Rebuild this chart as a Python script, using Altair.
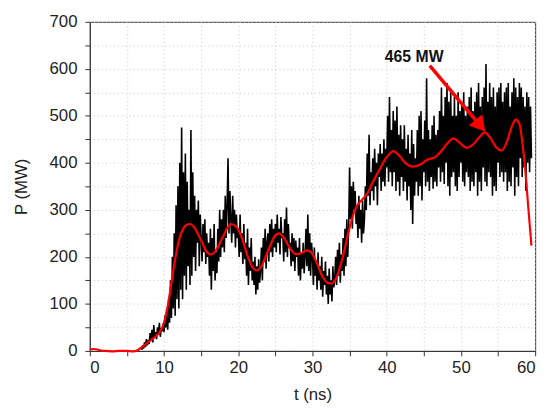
import altair as alt
import pandas as pd

# Smoothed (red) curve: time (ns) and power (MW)
red_t = [0, 0.5, 1, 1.5, 2, 3, 4, 5, 5.8, 6.5, 7, 8, 9, 9.5, 10, 10.5, 11, 11.5, 12, 12.5,
         13, 13.5, 14, 15, 15.7, 16.3, 17, 18, 19, 19.7, 20.5, 21.3, 22, 22.5, 23, 24, 25, 25.5,
         26, 27, 27.7, 28.5, 29.2, 29.8, 30.5, 31.3, 32, 32.5, 33.2, 34, 35, 35.5, 36, 37, 37.5,
         38, 39, 40, 40.9, 41.7, 42.5, 43.5, 44.5, 45.5, 46.5, 47.5, 48.2, 49, 49.8, 50.8, 51.7,
         52.5, 53.2, 54, 54.8, 55.5, 56.2, 56.8, 57.4, 57.9, 58.3, 58.7, 59.1, 59.5]
red_p = [3, 4, 3, 1, 0, -1, 0, 0, -1, 2, 8, 20, 33, 42, 60, 95, 145, 195, 235, 257,
         268, 270, 264, 235, 212, 205, 214, 245, 270, 265, 240, 200, 176, 171, 177, 212, 246, 250,
         244, 218, 206, 208, 214, 210, 190, 160, 145, 143, 155, 195, 262, 290, 308, 327, 338,
         355, 385, 412, 425, 415, 400, 392, 396, 407, 412, 428, 442, 452, 443, 432, 440,
         455, 465, 452, 432, 426, 445, 475, 492, 482, 440, 380, 300, 224]

# Raw (black) signal, sampled every 0.125 ns from 7 ns
noise_start = 7.0
noise_step = 0.125
noise_p = [
    2, 12, 5, 18, 8, 25, 12, 20,
    15, 38, 22, 45, 18, 55, 28, 40,
    25, 50, 35, 60, 30, 48, 42, 58,
    40, 75, 50, 90, 45, 110, 60, 150,
    70, 200, 90, 250, 75, 310, 110, 350,
    90, 400, 130, 475, 110, 380, 160, 420,
    130, 360, 180, 300, 140, 470, 160, 380,
    200, 330, 170, 300, 230, 320, 180, 290,
    240, 190, 270, 210, 280, 185, 250, 200,
    230, 160, 260, 130, 240, 170, 270, 150,
    210, 165, 260, 190, 300, 200, 280, 220,
    300, 210, 330, 240, 310, 410, 250, 340,
    280, 230, 330, 250, 300, 220, 290, 240,
    260, 200, 290, 210, 250, 185, 270, 195,
    230, 160, 260, 140, 220, 170, 240, 150,
    190, 140, 200, 120, 180, 130, 195, 145,
    170, 220, 150, 240, 190, 260, 175, 230,
    250, 190, 270, 210, 280, 200, 260, 220,
    270, 210, 290, 230, 260, 205, 285, 240,
    250, 190, 280, 210, 305, 200, 270, 220,
    230, 180, 250, 190, 240, 170, 235, 200,
    220, 160, 240, 150, 210, 175, 230, 165,
    200, 260, 180, 290, 170, 250, 160, 230,
    200, 140, 220, 160, 190, 130, 210, 150,
    180, 130, 200, 115, 170, 140, 190, 120,
    160, 100, 175, 120, 150, 105, 180, 135,
    150, 200, 140, 215, 160, 230, 145, 205,
    170, 240, 160, 260, 180, 280, 200, 260,
    390, 280, 350, 260, 360, 300, 340, 270,
    310, 240, 330, 260, 300, 230, 320, 250,
    280, 350, 300, 420, 330, 460, 310, 380,
    340, 410, 320, 430, 350, 400, 310, 420,
    370, 440, 340, 420, 360, 450, 350, 430,
    390, 500, 360, 540, 380, 470, 350, 510,
    380, 490, 340, 520, 360, 460, 330, 480,
    370, 450, 340, 480, 360, 430, 320, 460,
    350, 420, 300, 470, 270, 440, 330, 410,
    360, 470, 330, 500, 350, 510, 320, 450,
    380, 490, 350, 580, 360, 470, 340, 450,
    370, 480, 345, 500, 360, 460, 350, 470,
    390, 510, 360, 560, 380, 500, 355, 540,
    400, 570, 350, 530, 330, 550, 370, 500,
    380, 540, 350, 500, 340, 550, 370, 510,
    400, 530, 360, 550, 350, 500, 380, 520,
    370, 540, 340, 560, 360, 510, 350, 530,
    380, 550, 330, 570, 360, 520, 340, 540,
    390, 560, 360, 610, 350, 530, 380, 570,
    370, 540, 330, 560, 350, 520, 340, 550,
    400, 560, 370, 570, 380, 530, 360, 550,
    380, 560, 340, 570, 360, 520, 350, 550,
    390, 580, 330, 560, 370, 540, 350, 570,
    410, 560, 370, 540, 390, 520, 340, 550,
    400, 540, 380, 520, 410,
]

# Annotation
label_text = "465 MW"
label_t, label_p = 43.7, 624
arrow_t0, arrow_p0 = 45.8, 607
arrow_t1, arrow_p1 = 52.4, 483

x_ticks = list(range(0, 61, 5))
y_ticks = list(range(0, 701, 50))

noise_df = pd.DataFrame({
    "t": [noise_start + i * noise_step for i in range(len(noise_p))],
    "p": noise_p,
})
red_df = pd.DataFrame({"t": red_t, "p": red_p})
label_df = pd.DataFrame({"t": [label_t], "p": [label_p], "txt": [label_text]})
arrow_df = pd.DataFrame({"t": [arrow_t0], "p": [arrow_p0], "t2": [arrow_t1], "p2": [arrow_p1]})
head_df = pd.DataFrame({"t": [arrow_t1], "p": [arrow_p1]})

X = alt.X("t:Q", title="t (ns)",
          scale=alt.Scale(domain=[0, 60], nice=False, zero=False),
          axis=alt.Axis(values=x_ticks,
                        labelExpr="datum.value % 10 == 0 ? datum.label : ''",
                        labelOverlap=False, labelPadding=4, titlePadding=11))
Y = alt.Y("p:Q", title="P (MW)",
          scale=alt.Scale(domain=[0, 700], nice=False, zero=False),
          axis=alt.Axis(values=y_ticks,
                        labelExpr="datum.value % 100 == 0 ? datum.label : ''",
                        labelOverlap=False, labelPadding=8, titlePadding=19))

noise = alt.Chart(noise_df).mark_line(color="black", strokeWidth=1.6).encode(x=X, y=Y)
red = alt.Chart(red_df).mark_line(color="#ff0000", strokeWidth=2.2,
                                  interpolate="monotone").encode(x=X, y=Y)
txt = alt.Chart(label_df).mark_text(font="Liberation Sans", fontSize=16, fontWeight="bold",
                                    color="#111", align="center", baseline="middle"
                                    ).encode(x=X, y=Y, text="txt:N")
shaft = alt.Chart(arrow_df).mark_rule(color="#ff0000", strokeWidth=3.5).encode(
    x=X, y=Y, x2="t2:Q", y2="p2:Q")
head = alt.Chart(head_df).mark_point(shape="triangle", filled=True, opacity=1,
                                     size=320, angle=140, color="#ff0000").encode(x=X, y=Y)

chart = alt.layer(noise, red, shaft, head, txt).properties(
    width=452, height=334, autosize="none",
    padding={"left": 83, "top": 11, "right": 11, "bottom": 60},
).configure_view(stroke="#333", strokeWidth=1).configure_axis(
    labelFont="Liberation Sans", labelFontSize=17, labelColor="#222",
    titleFont="Liberation Sans", titleFontSize=17, titleFontWeight="normal", titleColor="#222",
    tickColor="#333", domainColor="#333", tickSize=5,
    gridColor="#c8c8c8", gridDash=[1, 3], gridWidth=1,
)

chart.save("out.html", embed_options={"renderer": "svg", "actions": False})
